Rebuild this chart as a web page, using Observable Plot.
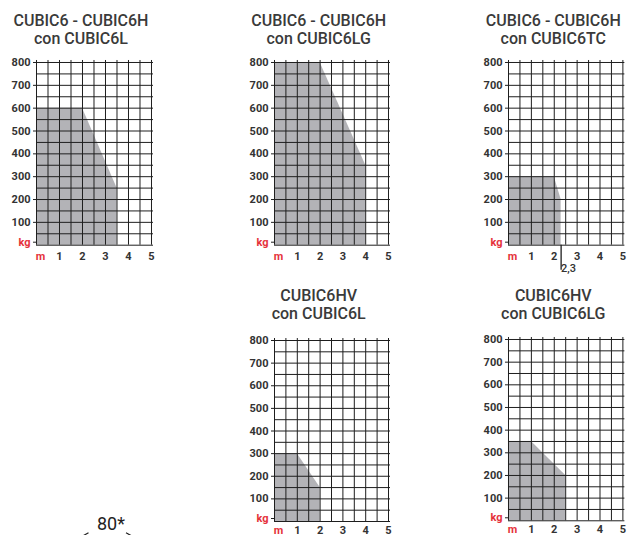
<!DOCTYPE html>
<html><head><meta charset="utf-8">
<script src="https://cdn.jsdelivr.net/npm/d3@7"></script>
<script src="https://cdn.jsdelivr.net/npm/@observablehq/plot@0.6"></script>
<style>
body{margin:0;background:#fff;}
#page{position:relative;width:627px;height:535px;overflow:hidden;background:#fff;font-family:Roboto,sans-serif;}
.title{position:absolute;width:200px;margin-left:-100px;text-align:center;font-size:16px;line-height:18px;font-weight:500;color:#3a3a3a;white-space:nowrap;}
.chart{position:absolute;}
.note{position:absolute;font-size:18px;line-height:20px;font-weight:400;color:#222;}
</style></head><body><div id="page"></div>
<script>
// ---- data ----
const titles = [
  ["CUBIC6 - CUBIC6H", "con CUBIC6L"],
  ["CUBIC6 - CUBIC6H", "con CUBIC6LG"],
  ["CUBIC6 - CUBIC6H", "con CUBIC6TC"],
  ["CUBIC6HV", "con CUBIC6L"],
  ["CUBIC6HV", "con CUBIC6LG"]
];
// reach (m) and load (kg) of each load chart envelope
const reachL    = [0, 2, 3.5];  const loadL    = [600, 600, 250];
const reachLG   = [0, 2, 4];    const loadLG   = [800, 800, 350];
const reachTC   = [0, 2, 2.3];  const loadTC   = [300, 300, 200];
const reachHVL  = [0, 1, 2];    const loadHVL  = [300, 300, 150];
const reachHVLG = [0, 1, 2.5];  const loadHVLG = [350, 350, 200];
const reaches = [reachL, reachLG, reachTC, reachHVL, reachHVLG];
const loads   = [loadL, loadLG, loadTC, loadHVL, loadHVLG];

const xGrid = [0, 0.5, 1, 1.5, 2, 2.5, 3, 3.5, 4, 4.5, 5];
const yGrid = [0, 50, 100, 150, 200, 250, 300, 350, 400, 450, 500, 550, 600, 650, 700, 750, 800];
const xLabels = [1, 2, 3, 4, 5];
const yLabels = [100, 200, 300, 400, 500, 600, 700, 800];
const markerTC = [2.3];   // extra reach marker on CUBIC6TC chart
const noteText = "80*";

// ---- layout (page placement of each chart frame) ----
const layout = [
  {x0: 36,    x5: 151,   yTop: 62.3,  yBot: 245,   titleTop: 12.2,  pad: 7},
  {x0: 273.7, x5: 387.7, yTop: 62.3,  yBot: 245,   titleTop: 12.2,  pad: 7},
  {x0: 508.3, x5: 622.7, yTop: 62.3,  yBot: 245,   titleTop: 12.2,  pad: 7},
  {x0: 273.7, x5: 387.7, yTop: 339.7, yBot: 520.7, titleTop: 287.2, pad: 4.5},
  {x0: 508.3, x5: 622.7, yTop: 338.7, yBot: 520,   titleTop: 287.2, pad: 4.5}
];

const red = "#e5333b", ink = "#1e1e1e", txt = "#333", shade = "#b3b3b7";
const page = document.getElementById("page");
const mL = 36, mR = 8, mT = 20, mB = 45;

layout.forEach((L, i) => {
  const t = document.createElement("div");
  t.className = "title";
  t.style.left = (L.x0 + 45) + "px";
  t.style.top = L.titleTop + "px";
  t.innerHTML = titles[i].join("<br>");
  page.appendChild(t);

  const env = reaches[i].map((r, k) => ({reach: r, load: loads[i][k]}));
  const marks = [
    Plot.areaY(env, {x: "reach", y: "load", fill: shade}),
    Plot.ruleY(yGrid, {stroke: ink, strokeWidth: 1, insetRight: -2}),
    Plot.ruleX(xGrid, {stroke: ink, strokeWidth: 1, insetTop: -2}),
    Plot.axisY(yLabels, {tickSize: 3, tickPadding: 3, stroke: ink, fill: txt}),
    Plot.axisY([0], {tickSize: 3, tickPadding: 3, tickFormat: () => "kg", stroke: ink, fill: red, dy: -3}),
    Plot.axisX(xLabels, {tickSize: 0, tickPadding: L.pad, fill: txt}),
    Plot.axisX([0], {tickSize: 0, tickPadding: L.pad, tickFormat: () => "m", fill: red, dx: 4})
  ];
  if (i === 2) {
    marks.push(Plot.axisX(markerTC, {tickSize: 25, tickFormat: () => "", stroke: ink, strokeWidth: 1.3}));
    marks.push(Plot.axisX(markerTC, {tickSize: 0, tickPadding: 19, textAnchor: "start", dx: 0,
      tickFormat: d => String(d).replace(".", ","), fill: txt, fontWeight: 500}));
  }
  const w = mL + (L.x5 - L.x0) + mR;
  const h = mT + (L.yBot - L.yTop) + mB;
  const svg = Plot.plot({
    width: w, height: h,
    marginLeft: mL, marginRight: mR, marginTop: mT, marginBottom: mB,
    x: {domain: [0, 5], label: null},
    y: {domain: [0, 800], label: null},
    style: {fontFamily: "Roboto, sans-serif", fontSize: "11px", fontWeight: "700", background: "transparent", overflow: "visible"},
    marks
  });
  svg.classList.add("chart");
  svg.style.left = (L.x0 - mL) + "px";
  svg.style.top = (L.yTop - mT) + "px";
  page.appendChild(svg);
});

// dimension note fragment at bottom-left
const n = document.createElement("div");
n.className = "note";
n.style.left = "97px";
n.style.top = "513.5px";
n.textContent = noteText;
page.appendChild(n);
const ns = "http://www.w3.org/2000/svg";
const deco = document.createElementNS(ns, "svg");
deco.setAttribute("width", "60"); deco.setAttribute("height", "6");
deco.style.position = "absolute"; deco.style.left = "80px"; deco.style.top = "530px";
deco.innerHTML = '<path d="M3.5,5.5L8.5,2.8M46,2.8L51,5.5" stroke="#222" stroke-width="1.2" fill="none"/>';
page.appendChild(deco);
</script></body></html>
